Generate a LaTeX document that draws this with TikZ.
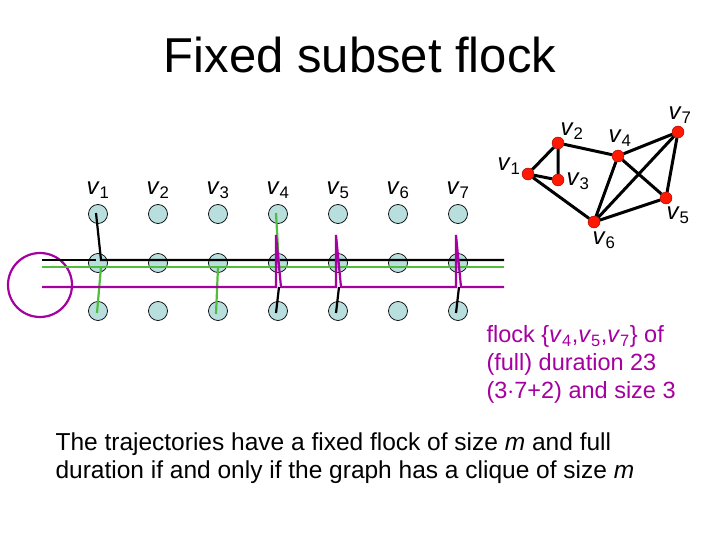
\documentclass[tikz,border=0pt]{standalone}
\usepackage{fontspec}
\setmainfont{Liberation Sans}
\newcommand{\vv}[1]{\textit{v}\textsubscript{#1}}
\begin{document}
\begin{tikzpicture}[x=1pt,y=-1pt,
  g/.style={circle,draw=black,fill=nodefill,minimum size=19pt,inner sep=0pt,line width=0.7pt},
  r/.style={circle,fill=red!80!orange,draw=red!60!black,minimum size=12pt,inner sep=0pt},
  e/.style={line width=3pt},
  lab/.style={font=\fontsize{24}{28}\selectfont},
  tr/.style={line width=2.2pt}]
\definecolor{pp}{RGB}{165,0,160}
\definecolor{gg}{RGB}{80,190,60}
\definecolor{nodefill}{RGB}{185,222,222}
\useasboundingbox (0,0) rectangle (720,540);
\node[font=\fontsize{49}{56}\selectfont] (title) at (360,55) {Fixed subset flock};
% grid
\foreach \i/\x in {1/98,2/158,3/218,4/278,5/338,6/398,7/458}{
  \node[lab] (l\i) at (\x,190) {\vv{\i}};
  \node[g] (a\i) at (\x,214) {};
  \node[g] (b\i) at (\x,263) {};
  \node[g] (c\i) at (\x,311) {};
}
\draw[pp,line width=2.2pt] (40,285) circle (32);
% trajectories
\draw[black,tr] (96,213) -- (101,260) -- (504,260);
\draw[black,tr] (42,260) -- (96,260);
\draw[gg,tr] (42,267) -- (504,267);
\draw[gg,tr] (101,267) -- (97,313);
\draw[gg,tr] (218,267) -- (216,314);
\draw[gg,tr] (276,213) -- (279,267);
\draw[pp,tr] (42,287) -- (276,287) -- (276,235) -- (281,287) -- (336,287) -- (336,235) -- (341,287) -- (456,287) -- (456,235) -- (461,287) -- (504,287);
\foreach \x in {276,336,456}{
  \draw[black,tr] (\x,313) -- (\x+3,287);
}
% graph
\node[r] (v1) at (528,174) {};
\node[r] (v2) at (558,143) {};
\node[r] (v3) at (558,180) {};
\node[r] (v4) at (618,156) {};
\node[r] (v7) at (678,132) {};
\node[r] (v5) at (666,198) {};
\node[r] (v6) at (594,222) {};
\draw[e] (v1)--(v2) (v1)--(v3) (v2)--(v3) (v2)--(v4) (v1)--(v6) (v4)--(v7) (v4)--(v5) (v4)--(v6) (v6)--(v7) (v6)--(v5) (v5)--(v7);
\node[lab] (t1) at (509,166) {\vv1};
\node[lab] (t2) at (572,131) {\vv2};
\node[lab] (t3) at (578,181) {\vv3};
\node[lab] (t4) at (620,138) {\vv4};
\node[lab] (t7) at (680,115) {\vv7};
\node[lab] (t5) at (678,215) {\vv5};
\node[lab] (t6) at (604,240) {\vv6};
\node[text=pp,anchor=north west,align=left,font=\fontsize{23.5}{28}\selectfont] (fl) at (483,322) {flock \{\vv4,\vv5,\vv7\} of\\(full) duration 23\\(3$\cdot$7+2) and size 3};
\node[anchor=north west,align=left,font=\fontsize{24.5}{28}\selectfont] (bt) at (52,429) {The trajectories have a fixed flock of size \textit{m} and full\\duration if and only if the graph has a clique of size \textit{m}};
\end{tikzpicture}
\end{document}
